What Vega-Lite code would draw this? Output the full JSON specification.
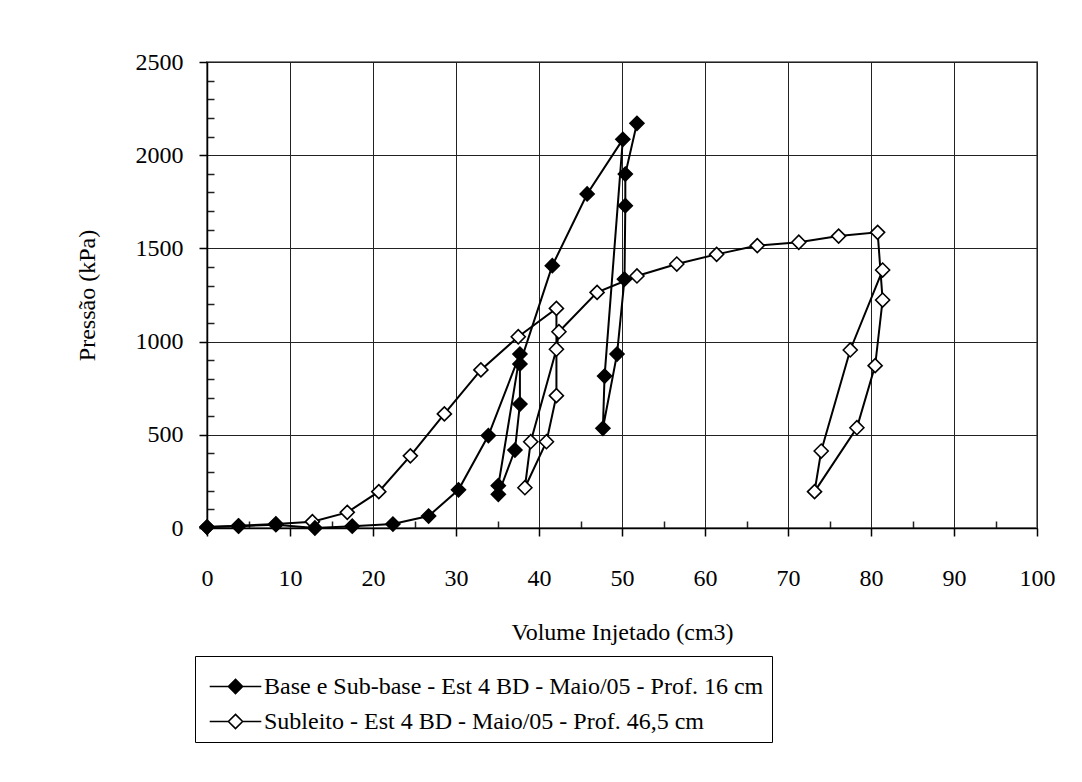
{
  "$schema": "https://vega.github.io/schema/vega-lite/v6.json",
  "autosize": {"type": "none"},
  "padding": {"left": 207, "top": 62, "right": 45, "bottom": 254},
  "width": 830,
  "height": 466,
  "background": "white",
  "config": {
    "view": {"stroke": "#808080", "strokeWidth": 2},
    "font": "Liberation Serif"
  },
  "data": {"values": [
    {"s": "Subleito - Est 4 BD - Maio/05 - Prof. 46,5 cm", "i": 1, "v": 0, "p": 5},
    {"s": "Subleito - Est 4 BD - Maio/05 - Prof. 46,5 cm", "i": 2, "v": 3.8, "p": 12},
    {"s": "Subleito - Est 4 BD - Maio/05 - Prof. 46,5 cm", "i": 3, "v": 8.3, "p": 22},
    {"s": "Subleito - Est 4 BD - Maio/05 - Prof. 46,5 cm", "i": 4, "v": 12.7, "p": 34},
    {"s": "Subleito - Est 4 BD - Maio/05 - Prof. 46,5 cm", "i": 5, "v": 16.9, "p": 84},
    {"s": "Subleito - Est 4 BD - Maio/05 - Prof. 46,5 cm", "i": 6, "v": 20.7, "p": 195},
    {"s": "Subleito - Est 4 BD - Maio/05 - Prof. 46,5 cm", "i": 7, "v": 24.5, "p": 387},
    {"s": "Subleito - Est 4 BD - Maio/05 - Prof. 46,5 cm", "i": 8, "v": 28.6, "p": 612},
    {"s": "Subleito - Est 4 BD - Maio/05 - Prof. 46,5 cm", "i": 9, "v": 33.0, "p": 848},
    {"s": "Subleito - Est 4 BD - Maio/05 - Prof. 46,5 cm", "i": 10, "v": 37.5, "p": 1026},
    {"s": "Subleito - Est 4 BD - Maio/05 - Prof. 46,5 cm", "i": 11, "v": 42.1, "p": 1178},
    {"s": "Subleito - Est 4 BD - Maio/05 - Prof. 46,5 cm", "i": 12, "v": 42.1, "p": 710},
    {"s": "Subleito - Est 4 BD - Maio/05 - Prof. 46,5 cm", "i": 13, "v": 40.9, "p": 463},
    {"s": "Subleito - Est 4 BD - Maio/05 - Prof. 46,5 cm", "i": 14, "v": 38.3, "p": 216},
    {"s": "Subleito - Est 4 BD - Maio/05 - Prof. 46,5 cm", "i": 15, "v": 39.0, "p": 463},
    {"s": "Subleito - Est 4 BD - Maio/05 - Prof. 46,5 cm", "i": 16, "v": 42.1, "p": 959},
    {"s": "Subleito - Est 4 BD - Maio/05 - Prof. 46,5 cm", "i": 17, "v": 42.4, "p": 1053},
    {"s": "Subleito - Est 4 BD - Maio/05 - Prof. 46,5 cm", "i": 18, "v": 47.0, "p": 1264},
    {"s": "Subleito - Est 4 BD - Maio/05 - Prof. 46,5 cm", "i": 19, "v": 51.8, "p": 1352},
    {"s": "Subleito - Est 4 BD - Maio/05 - Prof. 46,5 cm", "i": 20, "v": 56.6, "p": 1416},
    {"s": "Subleito - Est 4 BD - Maio/05 - Prof. 46,5 cm", "i": 21, "v": 61.4, "p": 1468},
    {"s": "Subleito - Est 4 BD - Maio/05 - Prof. 46,5 cm", "i": 22, "v": 66.3, "p": 1515},
    {"s": "Subleito - Est 4 BD - Maio/05 - Prof. 46,5 cm", "i": 23, "v": 71.3, "p": 1533},
    {"s": "Subleito - Est 4 BD - Maio/05 - Prof. 46,5 cm", "i": 24, "v": 76.1, "p": 1566},
    {"s": "Subleito - Est 4 BD - Maio/05 - Prof. 46,5 cm", "i": 25, "v": 80.8, "p": 1586},
    {"s": "Subleito - Est 4 BD - Maio/05 - Prof. 46,5 cm", "i": 26, "v": 81.4, "p": 1223},
    {"s": "Subleito - Est 4 BD - Maio/05 - Prof. 46,5 cm", "i": 27, "v": 80.5, "p": 871},
    {"s": "Subleito - Est 4 BD - Maio/05 - Prof. 46,5 cm", "i": 28, "v": 78.3, "p": 538},
    {"s": "Subleito - Est 4 BD - Maio/05 - Prof. 46,5 cm", "i": 29, "v": 73.2, "p": 195},
    {"s": "Subleito - Est 4 BD - Maio/05 - Prof. 46,5 cm", "i": 30, "v": 74.0, "p": 413},
    {"s": "Subleito - Est 4 BD - Maio/05 - Prof. 46,5 cm", "i": 31, "v": 77.5, "p": 955},
    {"s": "Subleito - Est 4 BD - Maio/05 - Prof. 46,5 cm", "i": 32, "v": 81.4, "p": 1384},
    {"s": "Base e Sub-base - Est 4 BD - Maio/05 - Prof. 16 cm", "i": 1, "v": 0, "p": 5},
    {"s": "Base e Sub-base - Est 4 BD - Maio/05 - Prof. 16 cm", "i": 2, "v": 3.8, "p": 10},
    {"s": "Base e Sub-base - Est 4 BD - Maio/05 - Prof. 16 cm", "i": 3, "v": 8.3, "p": 18},
    {"s": "Base e Sub-base - Est 4 BD - Maio/05 - Prof. 16 cm", "i": 4, "v": 13.0, "p": 0},
    {"s": "Base e Sub-base - Est 4 BD - Maio/05 - Prof. 16 cm", "i": 5, "v": 17.5, "p": 10},
    {"s": "Base e Sub-base - Est 4 BD - Maio/05 - Prof. 16 cm", "i": 6, "v": 22.4, "p": 21},
    {"s": "Base e Sub-base - Est 4 BD - Maio/05 - Prof. 16 cm", "i": 7, "v": 26.7, "p": 64},
    {"s": "Base e Sub-base - Est 4 BD - Maio/05 - Prof. 16 cm", "i": 8, "v": 30.3, "p": 205},
    {"s": "Base e Sub-base - Est 4 BD - Maio/05 - Prof. 16 cm", "i": 9, "v": 33.9, "p": 496},
    {"s": "Base e Sub-base - Est 4 BD - Maio/05 - Prof. 16 cm", "i": 10, "v": 37.7, "p": 933},
    {"s": "Base e Sub-base - Est 4 BD - Maio/05 - Prof. 16 cm", "i": 11, "v": 35.1, "p": 227},
    {"s": "Base e Sub-base - Est 4 BD - Maio/05 - Prof. 16 cm", "i": 12, "v": 35.1, "p": 181},
    {"s": "Base e Sub-base - Est 4 BD - Maio/05 - Prof. 16 cm", "i": 13, "v": 37.1, "p": 418},
    {"s": "Base e Sub-base - Est 4 BD - Maio/05 - Prof. 16 cm", "i": 14, "v": 37.7, "p": 665},
    {"s": "Base e Sub-base - Est 4 BD - Maio/05 - Prof. 16 cm", "i": 15, "v": 37.7, "p": 880},
    {"s": "Base e Sub-base - Est 4 BD - Maio/05 - Prof. 16 cm", "i": 16, "v": 41.6, "p": 1407},
    {"s": "Base e Sub-base - Est 4 BD - Maio/05 - Prof. 16 cm", "i": 17, "v": 45.8, "p": 1792},
    {"s": "Base e Sub-base - Est 4 BD - Maio/05 - Prof. 16 cm", "i": 18, "v": 50.1, "p": 2085},
    {"s": "Base e Sub-base - Est 4 BD - Maio/05 - Prof. 16 cm", "i": 19, "v": 47.9, "p": 815},
    {"s": "Base e Sub-base - Est 4 BD - Maio/05 - Prof. 16 cm", "i": 20, "v": 47.7, "p": 535},
    {"s": "Base e Sub-base - Est 4 BD - Maio/05 - Prof. 16 cm", "i": 21, "v": 49.4, "p": 933},
    {"s": "Base e Sub-base - Est 4 BD - Maio/05 - Prof. 16 cm", "i": 22, "v": 50.3, "p": 1335},
    {"s": "Base e Sub-base - Est 4 BD - Maio/05 - Prof. 16 cm", "i": 23, "v": 50.4, "p": 1729},
    {"s": "Base e Sub-base - Est 4 BD - Maio/05 - Prof. 16 cm", "i": 24, "v": 50.4, "p": 1899},
    {"s": "Base e Sub-base - Est 4 BD - Maio/05 - Prof. 16 cm", "i": 25, "v": 51.8, "p": 2171}
  ]},
  "layer": [
    {
      "mark": {"type": "line", "color": "black", "strokeWidth": 2},
      "encoding": {
        "x": {"field": "v", "type": "quantitative",
              "scale": {"domain": [0, 100], "nice": false, "zero": false},
              "axis": {"orient": "bottom", "tickCount": 200,
                       "values": [0,5,10,15,20,25,30,35,40,45,50,55,60,65,70,75,80,85,90,95,100],
                       "labelExpr": "datum.value % 10 === 0 ? datum.label : ''",
                       "format": "d", "labelOverlap": false,
                       "grid": true, "gridColor": "#222",
                       "gridDash": {"condition": {"test": "datum.value % 10 === 0", "value": []}, "value": [0, 459, 7, 3000]},
                       "gridWidth": {"condition": {"test": "datum.value % 10 === 0", "value": 1}, "value": 1.5},
                       "domainColor": "black", "domainWidth": 1.5,
                       "tickColor": "black", "tickWidth": 1.5, "tickSize": 8,
                       "tickOpacity": {"condition": {"test": "datum.value % 10 === 0", "value": 1}, "value": 0},
                       "labelFont": "Liberation Serif", "labelFontSize": 24, "labelColor": "black",
                       "labelPadding": 30, "labelFlush": false,
                       "title": "Volume Injetado (cm3)", "titleFont": "Liberation Serif",
                       "titleFontSize": 24, "titleFontWeight": "normal", "titleColor": "black",
                       "titlePadding": 30}},
        "y": {"field": "p", "type": "quantitative",
              "scale": {"domain": [0, 2500], "nice": false, "zero": false},
              "axis": {"orient": "left", "tickCount": 200,
                       "values": [0,100,200,300,400,500,600,700,800,900,1000,1100,1200,1300,1400,1500,1600,1700,1800,1900,2000,2100,2200,2300,2400,2500],
                       "labelExpr": "datum.value % 500 === 0 ? datum.label : ''",
                       "format": "d", "labelOverlap": false,
                       "grid": true, "gridColor": "#222",
                       "gridDash": {"condition": {"test": "datum.value % 500 === 0", "value": []}, "value": [7, 3000]},
                       "gridWidth": {"condition": {"test": "datum.value % 500 === 0", "value": 1}, "value": 1.5},
                       "domainColor": "black", "domainWidth": 1.5,
                       "tickColor": "black", "tickWidth": 1.5, "tickSize": 8,
                       "tickOpacity": {"condition": {"test": "datum.value % 500 === 0", "value": 1}, "value": 0},
                       "labelFont": "Liberation Serif", "labelFontSize": 24, "labelColor": "black",
                       "labelPadding": 16, "labelFlush": false,
                       "title": "Pressão (kPa)", "titleFont": "Liberation Serif",
                       "titleFontSize": 24, "titleFontWeight": "normal", "titleColor": "black",
                       "titlePadding": 36}},
        "detail": {"field": "s"},
        "order": {"field": "i", "type": "quantitative"}
      }
    },
    {
      "mark": {"type": "point", "shape": "diamond", "size": 196, "filled": false, "stroke": "black", "strokeWidth": 1.6, "opacity": 1},
      "encoding": {
        "x": {"field": "v", "type": "quantitative"},
        "y": {"field": "p", "type": "quantitative"},
        "fill": {"field": "s", "type": "nominal",
                 "scale": {"domain": ["Base e Sub-base - Est 4 BD - Maio/05 - Prof. 16 cm", "Subleito - Est 4 BD - Maio/05 - Prof. 46,5 cm"],
                           "range": ["black", "white"]},
                 "legend": {"title": null, "orient": "none", "legendX": -12, "legendY": 594,
                            "direction": "vertical",
                            "strokeColor": "black", "fillColor": "white", "padding": 8,
                            "symbolType": "M-1.2,0H-0.33M0.33,0H1.2M0,-0.33L0.33,0L0,0.33L-0.33,0Z",
                            "symbolSize": 1849, "symbolStrokeColor": "black", "symbolStrokeWidth": 1.6,
                            "symbolOffset": 10, "labelOffset": 6,
                            "labelFont": "Liberation Serif", "labelFontSize": 24, "labelColor": "black",
                            "labelLimit": 0, "rowPadding": 0}}
      }
    }
  ]
}
